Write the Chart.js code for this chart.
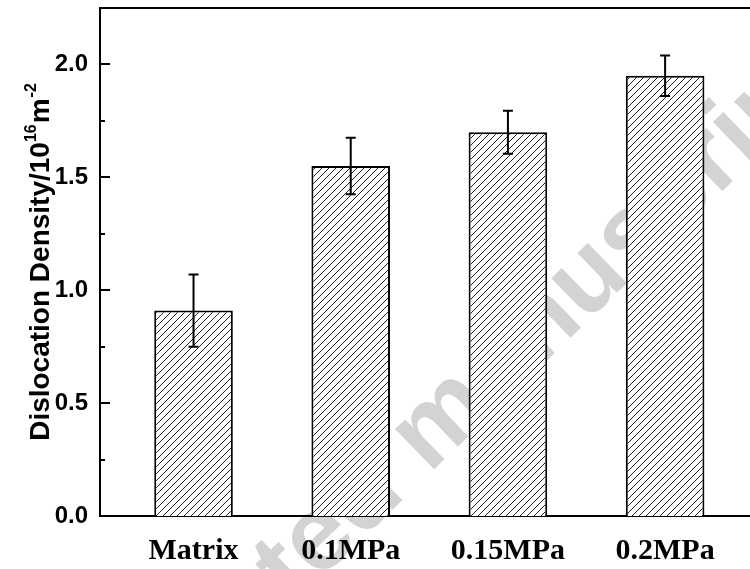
<!DOCTYPE html>
<html><head><meta charset="utf-8">
<script src="https://cdn.jsdelivr.net/npm/chart.js@4.4.0/dist/chart.umd.min.js"></script>
<style>html,body{margin:0;padding:0;background:#fff;overflow:hidden}#wrap{width:750px;height:569px;position:relative}</style>
</head><body><div id="wrap"><canvas id="c" width="750" height="569"></canvas></div>
<script>
// ---- data ----
const categories = ['Matrix', '0.1MPa', '0.15MPa', '0.2MPa'];
const densityValues = [0.91, 1.55, 1.70, 1.95];
const densityErrors = [0.16, 0.125, 0.095, 0.09];
const yTickValues = [0, 0.5, 1.0, 1.5, 2.0];
const yMinorTickValues = [0.25, 0.75, 1.25, 1.75];
const yAxisTitleMain = 'Dislocation Density/10';
const yAxisTitleSup1 = '16';
const yAxisTitleMid = 'm';
const yAxisTitleSup2 = '-2';
const watermarkText = 'Accepted manuscript';

// ---- hatch pattern ----
function makeHatch() {
  const s = 7;
  const pc = document.createElement('canvas');
  pc.width = s; pc.height = s;
  const p = pc.getContext('2d');
  p.fillStyle = '#fff';
  p.fillRect(0, 0, s, s);
  p.strokeStyle = '#222';
  p.lineWidth = 1;
  p.beginPath();
  p.moveTo(0, s); p.lineTo(s, 0);
  p.moveTo(-1, 1); p.lineTo(1, -1);
  p.moveTo(s - 1, s + 1); p.lineTo(s + 1, s - 1);
  p.stroke();
  return document.getElementById('c').getContext('2d').createPattern(pc, 'repeat');
}

const backgroundPlugin = {
  id: 'bgWatermark',
  beforeDraw(chart) {
    const ctx = chart.ctx;
    ctx.save();
    ctx.fillStyle = '#fff';
    ctx.fillRect(0, 0, chart.width, chart.height);
    ctx.translate(452, 452);
    ctx.rotate(-44 * Math.PI / 180);
    ctx.font = 'bold 106px "Liberation Sans", Arial, sans-serif';
    ctx.fillStyle = '#d3d3d3';
    ctx.textAlign = 'center';
    ctx.textBaseline = 'alphabetic';
    ctx.fillText(watermarkText, 0, 0);
    ctx.restore();
  }
};

const decorPlugin = {
  id: 'decor',
  afterDatasetsDraw(chart) {
    const ctx = chart.ctx;
    const xs = chart.scales.x, ys = chart.scales.y;
    const area = chart.chartArea;
    ctx.save();
    ctx.strokeStyle = '#000';
    ctx.lineWidth = 2;
    // error bars
    densityValues.forEach((v, i) => {
      const x = xs.getPixelForValue(i + 1);
      const yt = ys.getPixelForValue(v + densityErrors[i]);
      const yb = ys.getPixelForValue(v - densityErrors[i]);
      ctx.beginPath();
      ctx.moveTo(x, yt); ctx.lineTo(x, yb);
      ctx.moveTo(x - 5, yt); ctx.lineTo(x + 5, yt);
      ctx.moveTo(x - 5, yb); ctx.lineTo(x + 5, yb);
      ctx.stroke();
    });
    // inward ticks
    ctx.beginPath();
    yTickValues.forEach(v => {
      const y = Math.round(ys.getPixelForValue(v));
      ctx.moveTo(area.left, y); ctx.lineTo(area.left + 10, y);
    });
    yMinorTickValues.forEach(v => {
      const y = Math.round(ys.getPixelForValue(v));
      ctx.moveTo(area.left, y); ctx.lineTo(area.left + 5, y);
    });
    ctx.stroke();
    // top frame line
    ctx.beginPath();
    ctx.moveTo(area.left - 1, area.top);
    ctx.lineTo(area.right, area.top);
    ctx.stroke();
    // y axis title with superscripts
    ctx.fillStyle = '#000';
    const mainFont = 'bold 28px "Liberation Sans", Arial, sans-serif';
    const supFont = 'bold 16px "Liberation Sans", Arial, sans-serif';
    ctx.font = mainFont;
    const w1 = ctx.measureText(yAxisTitleMain).width;
    const w3 = ctx.measureText(yAxisTitleMid).width;
    ctx.font = supFont;
    const w2 = ctx.measureText(yAxisTitleSup1).width;
    const w4 = ctx.measureText(yAxisTitleSup2).width;
    const total = w1 + w2 + w3 + w4 + 2;
    ctx.translate(49, (area.top + area.bottom) / 2);
    ctx.rotate(-Math.PI / 2);
    ctx.textAlign = 'left';
    ctx.textBaseline = 'alphabetic';
    let x = -total / 2;
    ctx.font = mainFont; ctx.fillText(yAxisTitleMain, x, 0); x += w1;
    ctx.font = supFont; ctx.fillText(yAxisTitleSup1, x, -13); x += w2 + 1;
    ctx.font = mainFont; ctx.fillText(yAxisTitleMid, x, 0); x += w3 + 1;
    ctx.font = supFont; ctx.fillText(yAxisTitleSup2, x, -13);
    ctx.restore();
  }
};

const ctx = document.getElementById('c').getContext('2d');
new Chart(ctx, {
  type: 'bar',
  data: {
    datasets: [{
      data: categories.map((c, i) => ({ x: i + 1, y: densityValues[i] })),
      backgroundColor: makeHatch(),
      borderColor: '#000',
      borderWidth: 2,
      barPercentage: 0.5,
      categoryPercentage: 1.0
    }]
  },
  options: {
    responsive: false,
    animation: false,
    events: [],
    layout: { padding: { top: 8, right: 0, left: 0, bottom: 0 } },
    plugins: { legend: { display: false }, tooltip: { enabled: false } },
    scales: {
      x: {
        type: 'linear',
        offset: false,
        min: 0.405,
        max: 4.54,
        grid: { display: false, drawTicks: false, offset: false },
        border: { display: true, color: '#000', width: 2 },
        afterBuildTicks(scale) { scale.ticks = categories.map((c, i) => ({ value: i + 1 })); },
        afterFit(scale) { scale.height = 53; scale.paddingLeft = 0; scale.paddingRight = 0; },
        ticks: {
          autoSkip: false,
          maxRotation: 0,
          padding: 17,
          color: '#000',
          font: { family: '"Liberation Serif", "Times New Roman", serif', weight: 'bold', size: 30 },
          callback: (v) => categories[Math.round(v) - 1] || ''
        }
      },
      y: {
        min: 0,
        max: 2.25,
        grid: { display: false, drawTicks: false },
        border: { display: true, color: '#000', width: 2 },
        afterBuildTicks(scale) { scale.ticks = yTickValues.map(v => ({ value: v })); },
        afterFit(scale) { scale.width = 100; scale.paddingTop = 0; scale.paddingBottom = 0; },
        ticks: {
          padding: 12,
          color: '#000',
          font: { family: '"Liberation Sans", Arial, sans-serif', weight: 'bold', size: 24 },
          callback: (v) => Number(v).toFixed(1)
        }
      }
    }
  },
  plugins: [backgroundPlugin, decorPlugin]
});
</script></body></html>
